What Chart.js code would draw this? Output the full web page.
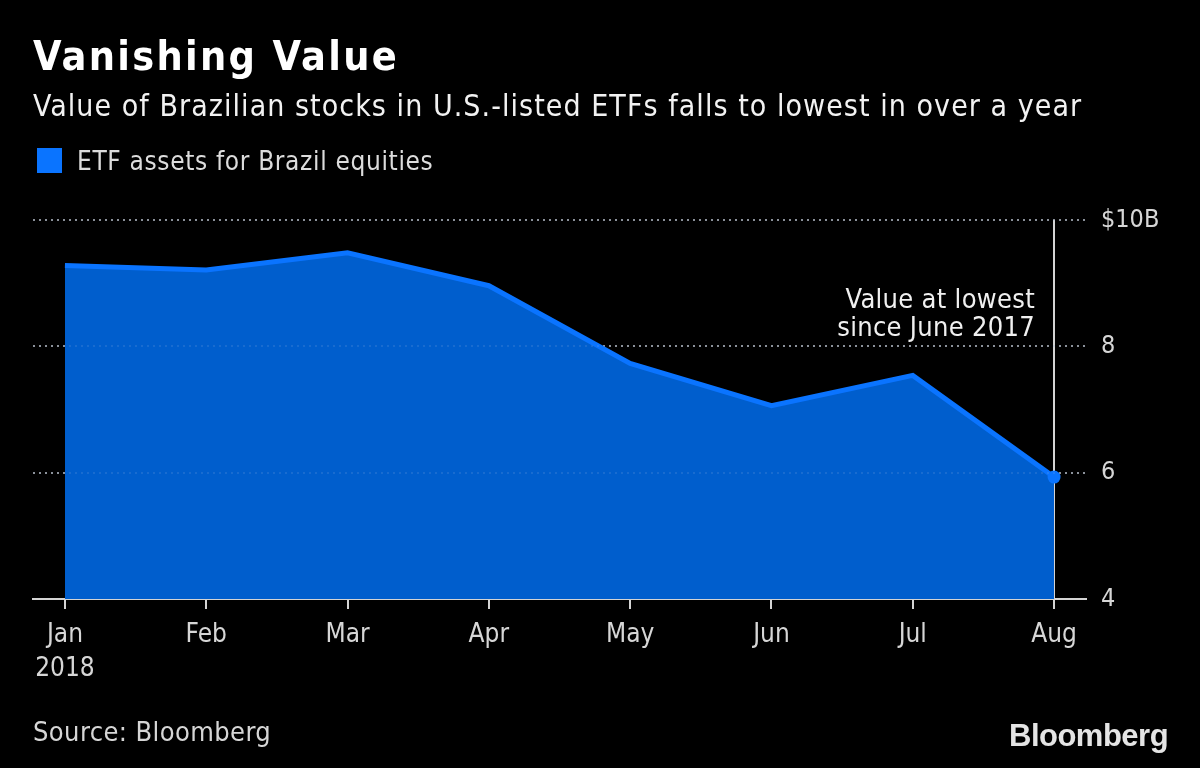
<!DOCTYPE html>
<html>
<head>
<meta charset="utf-8">
<script src="https://cdn.jsdelivr.net/npm/chart.js@4/dist/chart.umd.min.js"></script>
<style>
  html, body { margin: 0; padding: 0; background: #000; }
  #wrap { position: relative; width: 1200px; height: 768px; background: #000; overflow: hidden; }
  #c { position: absolute; left: 0; top: 0; }
  .t { position: absolute; white-space: nowrap; font-family: "DejaVu Sans Condensed", "DejaVu Sans", sans-serif; line-height: 1; }
  #title { left: 33px; top: 36px; font-size: 41px; font-weight: bold; color: #fff; letter-spacing: 2.3px; }
  #subtitle { left: 33px; top: 91px; font-size: 30px; color: #f2f2f2; letter-spacing: 1.05px; }
  #legend { left: 37px; top: 148px; height: 26px; }
  #legend .sw { position: absolute; left: 0; top: 0; width: 25px; height: 25px; background: #0a74ff; }
  #legend .lt { position: absolute; left: 40px; top: 0px; font-size: 26px; color: #dcdcdc; letter-spacing: 0.65px; }
  #note { right: 165px; top: 285px; font-size: 27px; line-height: 27.5px; color: #f0f0f0; text-align: right; letter-spacing: 0.3px; }
  #source { left: 33px; top: 718px; font-size: 27px; color: #d6d6d6; letter-spacing: 0.4px; }
  #logo { left: 1009px; top: 720px; font-family: "Liberation Sans", Arial, sans-serif; font-weight: bold; font-size: 31px; letter-spacing: -0.5px; color: #e4e4e4; }
</style>
</head>
<body>
<div id="wrap">
  <canvas id="c" width="1200" height="768"></canvas>
  <div class="t" id="title">Vanishing Value</div>
  <div class="t" id="subtitle">Value of Brazilian stocks in U.S.-listed ETFs falls to lowest in over a year</div>
  <div class="t" id="legend"><div class="sw"></div><div class="t lt">ETF assets for Brazil equities</div></div>
  <div class="t" id="note">Value at lowest<br>since June 2017</div>
  <div class="t" id="source">Source: Bloomberg</div>
  <div class="t" id="logo">Bloomberg</div>
</div>
<script>
const months = ['Jan', 'Feb', 'Mar', 'Apr', 'May', 'Jun', 'Jul', 'Aug'];
const yearLabel = '2018';
const etfAssets = [9.28, 9.21, 9.48, 8.96, 7.73, 7.06, 7.54, 5.93];
const yTicks = [4, 6, 8, 10];
const yTickLabels = ['4', '6', '8', '$10B'];

const FONT = '"DejaVu Sans Condensed", "DejaVu Sans", sans-serif';
const lastIdx = etfAssets.length - 1;

const rightLine = {
  id: 'rightLine',
  beforeDatasetsDraw(chart) {
    const { ctx, scales: { x, y }, chartArea } = chart;
    const px = Math.round(x.getPixelForValue(lastIdx));
    ctx.save();
    ctx.strokeStyle = '#d4d4d4';
    ctx.lineWidth = 2;
    ctx.beginPath();
    ctx.moveTo(px, y.getPixelForValue(yTicks[yTicks.length - 1]));
    ctx.lineTo(px, chartArea.bottom + 10);
    ctx.stroke();
    ctx.restore();
  },
  afterDatasetsDraw(chart) {
    const { ctx, scales: { y }, chartArea } = chart;
    ctx.save();
    ctx.strokeStyle = 'rgba(140,170,220,0.18)';
    ctx.lineWidth = 2;
    ctx.setLineDash([2, 4]);
    yTicks.slice(1).forEach(v => {
      const py = Math.round(y.getPixelForValue(v));
      ctx.beginPath();
      ctx.moveTo(chartArea.left, py);
      ctx.lineTo(chartArea.right, py);
      ctx.stroke();
    });
    ctx.restore();
  }
};

new Chart(document.getElementById('c'), {
  type: 'line',
  data: {
    datasets: [{
      label: 'ETF assets for Brazil equities',
      data: etfAssets.map((v, i) => ({ x: i, y: v })),
      borderColor: '#0a74ff',
      borderWidth: 5,
      backgroundColor: '#005ecd',
      fill: 'start',
      tension: 0,
      pointRadius: ctx => ctx.dataIndex === lastIdx ? 6.5 : 0,
      pointBackgroundColor: '#0a74ff',
      pointBorderWidth: 0,
      pointHoverRadius: 0
    }]
  },
  options: {
    responsive: false,
    animation: false,
    devicePixelRatio: 1,
    layout: { padding: { left: 33, top: 220, right: 0, bottom: 0 } },
    plugins: { legend: { display: false }, title: { display: false }, tooltip: { enabled: false } },
    scales: {
      x: {
        type: 'linear',
        min: -0.226,
        max: lastIdx + 0.226,
        afterBuildTicks: s => { s.ticks = months.map((m, i) => ({ value: i })); },
        afterFit: s => { s.height = 169; },
        grid: { drawOnChartArea: false, drawTicks: true, tickLength: 10, tickColor: '#d4d4d4', tickWidth: 2, color: '#d4d4d4', lineWidth: 2 },
        border: { display: true, color: '#d4d4d4', width: 2 },
        ticks: {
          autoSkip: false,
          maxRotation: 0,
          padding: 10,
          color: '#d6d6d6',
          font: { family: FONT, size: 26, lineHeight: 1.28 },
          callback: v => v === 0 ? [months[0], yearLabel] : months[v]
        }
      },
      y: {
        position: 'right',
        min: yTicks[0],
        max: yTicks[yTicks.length - 1],
        afterBuildTicks: s => { s.ticks = yTicks.map(v => ({ value: v })); },
        afterFit: s => { s.width = 114; },
        grid: {
          drawTicks: false,
          color: c => (c.tick && c.tick.value === yTicks[0]) ? 'rgba(0,0,0,0)' : '#8c8c8c',
          lineWidth: 2
        },
        border: { display: false, dash: [2, 4] },
        ticks: {
          padding: 15,
          color: '#d6d6d6',
          font: { family: FONT, size: 25 },
          callback: v => yTickLabels[yTicks.indexOf(v)]
        }
      }
    }
  },
  plugins: [rightLine]
});
</script>
</body>
</html>
